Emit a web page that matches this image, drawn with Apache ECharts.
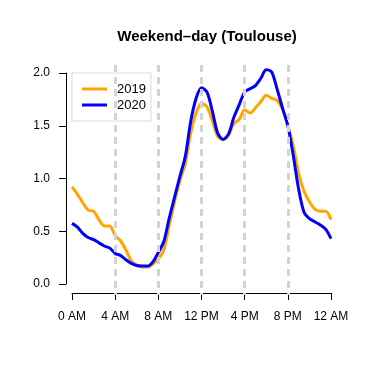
<!DOCTYPE html>
<html>
<head>
<meta charset="utf-8">
<script src="https://cdn.jsdelivr.net/npm/echarts@6/dist/echarts.min.js"></script>
<style>
  html, body { margin: 0; padding: 0; background: #fff; }
  #chart { width: 374px; height: 374px; }
</style>
</head>
<body>
<div id="chart"></div>
<script>
// half-hour steps over the day
const hours = [
  0, 0.5, 1, 1.5, 2, 2.5, 3, 3.5, 4, 4.5, 5, 5.5, 6, 6.5, 7, 7.5, 8, 8.5, 9, 9.5,
  10, 10.5, 11, 11.5, 12, 12.5, 13, 13.5, 14, 14.5, 15, 15.5, 16, 16.5, 17, 17.5,
  18, 18.5, 19, 19.5, 20, 20.5, 21, 21.5, 22, 22.5, 23, 23.5, 24
];

const values2019 = [
  0.92, 0.85, 0.77, 0.70, 0.69, 0.61, 0.55, 0.55, 0.46, 0.41, 0.32, 0.22, 0.18, 0.16, 0.16, 0.19, 0.24, 0.32, 0.55, 0.78,
  0.98, 1.14, 1.43, 1.62, 1.71, 1.68, 1.55, 1.40, 1.37, 1.41, 1.52, 1.56, 1.65, 1.62, 1.67, 1.73,
  1.79, 1.76, 1.74, 1.66, 1.50, 1.31, 1.05, 0.88, 0.78, 0.71, 0.69, 0.69, 0.61
];

const values2020 = [
  0.575, 0.54, 0.48, 0.44, 0.42, 0.39, 0.36, 0.34, 0.29, 0.27, 0.23, 0.195, 0.175, 0.17, 0.17, 0.21, 0.30, 0.40, 0.62, 0.82,
  1.02, 1.21, 1.54, 1.76, 1.86, 1.82, 1.64, 1.43, 1.37, 1.42, 1.58, 1.70, 1.82, 1.85, 1.88, 1.95,
  2.03, 2.01, 1.85, 1.67, 1.50, 1.22, 0.90, 0.68, 0.62, 0.59, 0.56, 0.52, 0.43
];

const tickLabels = ['0 AM', '4 AM', '8 AM', '12 PM', '4 PM', '8 PM', '12 AM'];
const seriesNames = ['2019', '2020'];
const seriesColors = ['#FFA500', '#0000FF'];

const font = 'Liberation Sans, Arial, Helvetica, sans-serif';

const toPairs = vals => hours.map((h, i) => [h, vals[i]]);

const chart = echarts.init(document.getElementById('chart'));

chart.setOption({
  animation: false,
  title: {
    text: 'Weekend\u2013day (Toulouse)',
    left: 202,
    top: 24,
    textAlign: 'center',
    textStyle: { fontFamily: font, fontSize: 15, fontWeight: 'bold', color: '#000' }
  },
  legend: {
    data: seriesNames,
    orient: 'vertical',
    left: 72,
    top: 73,
    padding: [9, 5, 9, 10],
    itemGap: 2,
    itemWidth: 25,
    itemHeight: 3,
    icon: 'rect',
    borderColor: '#d9d9d9',
    borderWidth: 1,
    textStyle: { fontFamily: font, fontSize: 13, lineHeight: 14, color: '#000', padding: [0, 0, 0, 5] }
  },
  grid: [
    { left: 72, right: 43, top: 73, bottom: 90 },
    // taller grid only for the dashed guide lines
    { left: 72, right: 43, top: 65, bottom: 79 }
  ],
  xAxis: [
    {
      type: 'value',
      gridIndex: 0,
      min: 0,
      max: 24,
      interval: 4,
      offset: 9,
      axisLine: { show: true, onZero: false, lineStyle: { color: '#000', width: 1 } },
      axisTick: { show: true, length: 7, lineStyle: { color: '#000' } },
      axisLabel: {
        margin: 18,
        fontFamily: font,
        fontSize: 12,
        color: '#000',
        formatter: v => tickLabels[v / 4]
      },
      splitLine: { show: false }
    },
    {
      type: 'value',
      gridIndex: 1,
      min: 0,
      max: 24,
      interval: 4,
      z: 5,
      axisLine: { show: false, onZero: false },
      axisTick: { show: false },
      axisLabel: { show: false },
      splitLine: {
        show: true,
        showMinLine: false,
        showMaxLine: false,
        lineStyle: { color: '#d3d3d3', width: 3, type: [7, 5] }
      }
    }
  ],
  yAxis: [
    {
      type: 'value',
      gridIndex: 0,
      min: 0,
      max: 2,
      interval: 0.5,
      offset: 6,
      axisLine: { show: true, onZero: false, lineStyle: { color: '#000', width: 1 } },
      axisTick: { show: true, length: 7, lineStyle: { color: '#000' } },
      axisLabel: {
        margin: 16,
        fontFamily: font,
        fontSize: 12,
        color: '#000',
        formatter: v => v.toFixed(1)
      },
      splitLine: { show: false }
    },
    {
      type: 'value',
      gridIndex: 1,
      min: 0,
      max: 1,
      show: false
    }
  ],
  series: seriesNames.map((name, i) => ({
    name: name,
    type: 'line',
    xAxisIndex: 0,
    yAxisIndex: 0,
    data: toPairs(i === 0 ? values2019 : values2020),
    smooth: 0.3,
    clip: false,
    showSymbol: false,
    color: seriesColors[i],
    lineStyle: { color: seriesColors[i], width: 3 },
    z: 2
  }))
});
</script>
</body>
</html>
